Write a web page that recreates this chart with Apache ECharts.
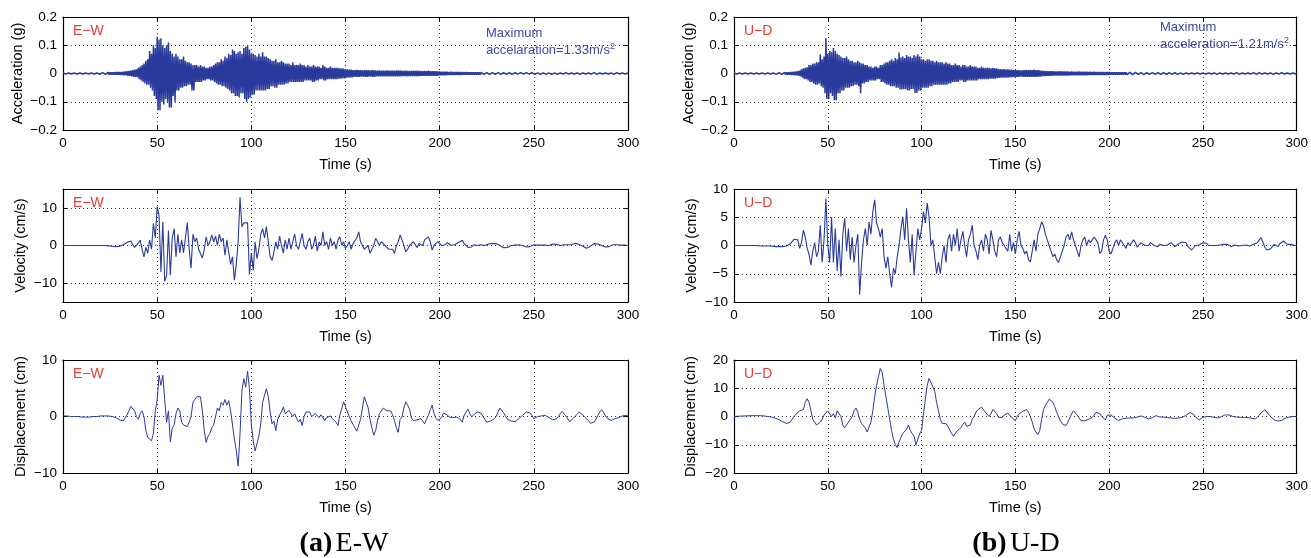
<!DOCTYPE html>
<html>
<head>
<meta charset="utf-8">
<script src="https://cdn.jsdelivr.net/npm/echarts@6/dist/echarts.min.js"></script>
<style>
html,body{margin:0;padding:0;background:#fff;}
#chart{width:1311px;height:558px;}
</style>
</head>
<body>
<div id="chart"></div>
<script>
// sampling step of the digitised records (s)
const timeStep = 1;

// E-W acceleration (g): per-second upper (positive) and lower (negative) peaks, t = 0..300 s
const accEWUp = [
 .002,.002,.002,.002,.002,.002,.002,.002,.002,.002,
 .002,.002,.002,.002,.002,.002,.002,.002,.002,.003,
 .003,.003,.004,.004,.004,.004,.004,.004,.005,.005,
 .005,.005,.006,.007,.008,.009,.01,.012,.014,.015,
 .02,.025,.03,.035,.045,.05,.08,.07,.1,.09,
 .13,.12,.125,.1,.09,.1,.11,.08,.07,.06,
 .07,.06,.05,.05,.06,.045,.04,.04,.035,.03,
 .03,.03,.025,.03,.025,.025,.02,.02,.025,.025,
 .03,.035,.04,.04,.05,.045,.06,.055,.07,.065,
 .085,.08,.07,.075,.08,.07,.09,.095,.1,.085,
 .07,.07,.065,.06,.07,.06,.075,.06,.06,.055,
 .05,.045,.045,.05,.04,.04,.045,.04,.035,.035,
 .035,.03,.04,.03,.03,.03,.035,.03,.03,.025,
 .03,.025,.025,.03,.025,.025,.025,.02,.03,.025,
 .02,.02,.025,.02,.02,.02,.02,.018,.018,.017,
 .015,.015,.014,.014,.012,.012,.013,.012,.012,.011,
 .012,.012,.012,.011,.012,.012,.011,.01,.011,.01,
 .01,.01,.011,.01,.01,.01,.01,.01,.011,.01,
 .01,.009,.01,.009,.009,.009,.01,.009,.01,.009,
 .009,.008,.009,.008,.01,.008,.008,.008,.008,.007,
 .007,.006,.006,.006,.006,.005,.006,.005,.005,.005,
 .005,.005,.005,.004,.005,.004,.004,.004,.004,.004,
 .004,.004,.004,.003,.004,.003,.003,.003,.003,.003,
 .003,.003,.003,.003,.003,.003,.003,.003,.003,.003,
 .003,.003,.002,.003,.003,.002,.003,.003,.002,.003,
 .002,.003,.002,.002,.003,.002,.002,.003,.002,.002,
 .003,.002,.002,.003,.002,.002,.002,.003,.002,.002,
 .002,.003,.002,.002,.002,.003,.002,.002,.003,.002,
 .002,.002,.003,.002,.002,.002,.003,.002,.002,.002,
 .003,.002,.002,.002,.003,.002,.002,.002,.002,.002,
 .002
];
const accEWLo = [
 -.002,-.002,-.002,-.002,-.002,-.002,-.002,-.002,-.002,-.002,
 -.002,-.002,-.002,-.002,-.002,-.002,-.002,-.002,-.002,-.003,
 -.003,-.003,-.003,-.003,-.004,-.004,-.004,-.004,-.004,-.004,
 -.005,-.005,-.006,-.006,-.008,-.008,-.01,-.012,-.013,-.013,
 -.02,-.025,-.03,-.035,-.04,-.04,-.05,-.06,-.08,-.09,
 -.13,-.13,-.1,-.11,-.09,-.1,-.12,-.12,-.08,-.1,
 -.06,-.06,-.05,-.05,-.045,-.045,-.04,-.04,-.06,-.06,
 -.03,-.03,-.03,-.03,-.025,-.025,-.02,-.02,-.025,-.025,
 -.03,-.035,-.04,-.04,-.045,-.045,-.05,-.055,-.06,-.07,
 -.07,-.08,-.08,-.085,-.07,-.07,-.09,-.1,-.09,-.085,
 -.075,-.075,-.06,-.06,-.06,-.06,-.06,-.06,-.055,-.055,
 -.045,-.045,-.05,-.05,-.04,-.04,-.04,-.04,-.035,-.035,
 -.03,-.03,-.03,-.03,-.03,-.03,-.03,-.03,-.025,-.025,
 -.025,-.025,-.03,-.03,-.025,-.025,-.02,-.02,-.025,-.025,
 -.02,-.02,-.02,-.02,-.02,-.02,-.018,-.018,-.017,-.017,
 -.015,-.015,-.014,-.014,-.012,-.012,-.012,-.012,-.011,-.011,
 -.012,-.012,-.011,-.011,-.012,-.012,-.01,-.01,-.01,-.01,
 -.01,-.01,-.01,-.01,-.01,-.01,-.01,-.01,-.01,-.01,
 -.009,-.009,-.01,-.009,-.009,-.009,-.009,-.009,-.009,-.009,
 -.008,-.008,-.008,-.008,-.008,-.008,-.008,-.008,-.008,-.007,
 -.006,-.006,-.006,-.006,-.005,-.005,-.005,-.005,-.005,-.005,
 -.005,-.005,-.004,-.004,-.004,-.004,-.004,-.004,-.004,-.004,
 -.004,-.004,-.003,-.003,-.003,-.003,-.003,-.003,-.003,-.003,
 -.003,-.003,-.003,-.003,-.003,-.003,-.003,-.003,-.003,-.003,
 -.003,-.002,-.003,-.003,-.002,-.003,-.003,-.002,-.003,-.002,
 -.003,-.002,-.002,-.003,-.002,-.002,-.003,-.002,-.002,-.003,
 -.002,-.002,-.003,-.002,-.002,-.002,-.003,-.002,-.002,-.002,
 -.003,-.002,-.002,-.002,-.003,-.002,-.002,-.002,-.002,-.003,
 -.002,-.002,-.002,-.003,-.002,-.002,-.002,-.003,-.002,-.002,
 -.002,-.002,-.003,-.002,-.002,-.002,-.002,-.002,-.002,-.002,
 -.002
];

// U-D acceleration (g): per-second upper and lower peaks, t = 0..300 s
const accUDUp = [
 .002,.002,.002,.002,.002,.002,.002,.002,.002,.002,
 .002,.002,.002,.002,.002,.002,.002,.002,.002,.002,
 .002,.002,.003,.003,.003,.003,.004,.004,.004,.004,
 .005,.005,.006,.007,.008,.01,.015,.018,.02,.022,
 .03,.03,.035,.035,.04,.04,.068,.05,.06,.125,
 .07,.08,.075,.09,.08,.07,.065,.06,.055,.055,
 .06,.05,.045,.045,.04,.04,.045,.04,.035,.035,
 .03,.03,.025,.025,.02,.025,.025,.02,.03,.03,
 .035,.04,.04,.045,.05,.045,.055,.05,.074,.057,
 .06,.055,.065,.06,.06,.055,.065,.06,.068,.06,
 .05,.05,.045,.05,.05,.045,.045,.04,.045,.04,
 .04,.04,.035,.04,.035,.035,.03,.03,.035,.03,
 .03,.025,.03,.03,.025,.025,.03,.025,.025,.025,
 .02,.02,.025,.02,.02,.02,.02,.018,.02,.018,
 .018,.016,.016,.015,.016,.015,.015,.014,.014,.013,
 .012,.012,.012,.011,.012,.012,.013,.012,.013,.012,
 .014,.012,.012,.011,.01,.009,.009,.008,.008,.008,
 .008,.007,.007,.007,.008,.007,.007,.007,.007,.006,
 .007,.006,.006,.006,.007,.006,.006,.006,.006,.005,
 .006,.005,.006,.005,.005,.005,.005,.005,.005,.005,
 .005,.004,.004,.004,.004,.004,.004,.004,.004,.004,
 .003,.004,.003,.003,.004,.003,.003,.003,.003,.003,
 .003,.003,.004,.003,.003,.003,.003,.004,.003,.003,
 .003,.003,.003,.002,.003,.003,.003,.003,.002,.003,
 .003,.002,.002,.003,.002,.003,.002,.002,.003,.002,
 .002,.003,.002,.002,.003,.002,.002,.003,.002,.002,
 .003,.002,.002,.002,.003,.002,.002,.002,.003,.002,
 .002,.002,.003,.002,.002,.002,.002,.003,.002,.002,
 .003,.002,.002,.002,.002,.003,.002,.002,.002,.002,
 .002,.002,.003,.002,.002,.002,.002,.002,.002,.002,
 .002
];
const accUDLo = [
 -.002,-.002,-.002,-.002,-.002,-.002,-.002,-.002,-.002,-.002,
 -.002,-.002,-.002,-.002,-.002,-.002,-.002,-.002,-.002,-.002,
 -.002,-.002,-.003,-.003,-.003,-.003,-.004,-.004,-.004,-.004,
 -.005,-.005,-.006,-.006,-.008,-.01,-.015,-.02,-.02,-.025,
 -.03,-.03,-.035,-.04,-.04,-.035,-.045,-.05,-.07,-.09,
 -.09,-.07,-.08,-.095,-.095,-.07,-.07,-.06,-.06,-.05,
 -.05,-.05,-.045,-.045,-.04,-.04,-.045,-.07,-.035,-.035,
 -.03,-.03,-.025,-.025,-.025,-.025,-.02,-.02,-.03,-.03,
 -.035,-.04,-.04,-.045,-.045,-.045,-.05,-.05,-.057,-.057,
 -.055,-.055,-.06,-.06,-.055,-.055,-.069,-.069,-.06,-.06,
 -.05,-.05,-.05,-.05,-.045,-.045,-.04,-.04,-.04,-.04,
 -.04,-.04,-.04,-.04,-.035,-.035,-.03,-.03,-.03,-.03,
 -.025,-.025,-.03,-.03,-.025,-.025,-.025,-.025,-.025,-.025,
 -.02,-.02,-.02,-.02,-.02,-.02,-.018,-.018,-.018,-.018,
 -.016,-.016,-.015,-.015,-.015,-.015,-.014,-.014,-.013,-.013,
 -.012,-.012,-.011,-.011,-.012,-.012,-.012,-.012,-.012,-.012,
 -.012,-.012,-.011,-.011,-.009,-.009,-.008,-.008,-.008,-.008,
 -.007,-.007,-.007,-.007,-.007,-.007,-.007,-.007,-.007,-.006,
 -.006,-.006,-.006,-.006,-.006,-.006,-.006,-.006,-.006,-.005,
 -.005,-.005,-.005,-.005,-.005,-.005,-.005,-.005,-.005,-.005,
 -.004,-.004,-.004,-.004,-.004,-.004,-.004,-.004,-.004,-.004,
 -.003,-.003,-.004,-.003,-.003,-.003,-.003,-.003,-.004,-.003,
 -.003,-.003,-.003,-.003,-.003,-.004,-.003,-.003,-.003,-.003,
 -.003,-.002,-.003,-.003,-.003,-.002,-.003,-.003,-.002,-.003,
 -.002,-.003,-.002,-.002,-.003,-.002,-.002,-.003,-.002,-.002,
 -.003,-.002,-.002,-.003,-.002,-.002,-.002,-.003,-.002,-.002,
 -.002,-.003,-.002,-.002,-.002,-.003,-.002,-.002,-.002,-.003,
 -.002,-.002,-.002,-.003,-.002,-.002,-.002,-.002,-.003,-.002,
 -.002,-.002,-.003,-.002,-.002,-.002,-.002,-.003,-.002,-.002,
 -.002,-.002,-.002,-.002,-.003,-.002,-.002,-.002,-.002,-.002,
 -.002
];

// E-W velocity (cm/s), t = 0..300 s
const velEW = [
 0,0,0,0,0,0,0,0,0,0,
 0,0,0,0,0,0,0,0,0,0,
 0,0,0,-.1,-.1,-.2,-.2,-.2,-.3,-.1,
 -.2,0,.2,.5,.8,1.1,1.2,.3,-.5,-.2,
 .6,1.4,-1,-3,-.5,-2,1.5,-1,5.9,2,
 10.3,8,-7,6.3,-9.5,-8,4,-7.9,2,4.5,
 -3,3,-2,1.5,-2,2,6.1,-1,-6,3,
 1,2,-1,-1,-3.3,-1,2.3,0,1,2.8,
 1,2.5,0,3,1,2,-2.6,1.5,2,-5,
 -3,-9.2,-5,1,12.8,5,6,5.8,6,-7.7,
 -2,-6.6,1,-3.5,-1,3,4.5,2,5,1,
 -3,-4,-1.7,1,-1,2.5,0,-2,1.5,-1,
 2,-1,1,3,0,-1,1,3.2,0,-1,
 1,2,-1,0,2.5,-1.5,1,0,3.6,0,
 1,-1,2,0,1,-1,1.5,2.3,0,1,
 -.8,0,1,-1,.5,1,2,3.6,1,0,
 -1,-1.2,0,-2.1,-1,0,1.9,1,0,1,
 .5,0,-.5,-1,-1.5,-1,-2.1,0,1,2.8,
 1.5,0,-1.7,-1,0,.5,1,.5,-.5,.5,
 1,0,1.5,1,2.3,1,-1.2,0,.3,1,
 .5,0,.5,.2,.8,.5,0,-.3,.2,.5,
 .8,1.2,1.4,.5,0,-.5,-.8,-.4,.2,.3,
 0,-.3,.2,.3,0,.2,.4,.3,.5,.4,
 .5,.3,0,-.3,-.6,-.8,-.5,-.2,0,.2,
 .1,0,.2,.1,0,-.2,-.4,-.5,-.3,0,
 .2,.3,.1,0,.1,.2,.1,-.1,0,.2,
 .4,.5,.3,.1,0,.1,.2,.3,.2,0,
 .2,.4,.6,.5,.3,0,-.2,-.5,-.7,-.5,
 -.2,.2,.5,.6,.4,.2,0,-.2,-.4,-.6,
 -.3,0,.2,.3,.2,.1,.1,.2,.1,0,
 0
];

// U-D velocity (cm/s), t = 0..300 s
const velUD = [
 0,0,0,0,0,0,0,0,0,0,
 0,0,0,0,-.1,-.1,-.1,-.1,-.1,-.1,
 -.1,-.2,-.2,-.2,-.2,-.2,-.2,-.1,-.1,0,
 .3,.7,1.1,1.4,1,-.5,.5,2.7,1.5,-.5,
 -1.5,-3.5,-1,.5,-2,-1,3.6,-3,1,8.3,
 0,-3,5,-3,3,-4.5,1,-5.5,2,4.8,
 -1,3,-2.5,1.5,-3,0,2,-8.7,-3,1,
 3,0,4.2,2,6,8.1,4,3,1.5,3,
 -2,-4,-2,-5,-7.4,-4,-5,-2,0,3,
 5.1,1,6.6,1,-3,2,-5.3,-1,3,1,
 3,6,4,7.5,5,0,1,-2,-5,-3,
 -5,-2,0,-3,1,2,-1,2,0,3,
 -1,1,2.5,0,-2,1,2,3.6,0,-1,
 -2.5,0,1,-1,2,1,-1.5,2.7,1,-1,
 -2,1,1.5,.5,0,-.5,-1,2,-1,.5,
 -1.5,1,2.5,0,-.5,-1.5,-1,-2.5,-2.9,-1,
 1,-1,2,3,4.2,3.5,2,1,0,-1,
 -2,-1.5,-2.5,-3,-2,-1,0,1.5,2,1,
 2.4,1,0,-1,-2,0,1,1.5,0,1,
 .5,1,1.5,1,.5,-1.4,-1,1,1.8,1,
 -1,-1.5,-.5,.5,1,0,1,.5,0,-.5,
 .5,0,.5,1,.5,-.3,0,.5,.6,0,
 -.3,0,.5,.2,0,.3,-.2,.2,.4,0,
 .3,.1,.2,.5,.2,-.2,0,.3,.5,.6,
 .9,.5,-.2,-.5,-.8,-.4,0,.3,.1,0,
 .5,.8,.4,0,-.2,0,.2,0,-.1,.1,
 .3,.2,0,.2,.1,-.2,0,.1,0,-.1,
 .2,0,-.1,.1,0,-.1,0,.2,.1,.5,
 1,1.4,.6,-.3,-.8,-1,-.6,-.3,.2,0,
 -.2,.3,.6,.8,.6,.2,.4,.2,0,0,
 0
];

// E-W displacement (cm), t = 0..300 s
const dispEW = [
 .1,.1,.1,0,0,0,0,0,0,0,
 -.1,-.1,-.1,-.1,-.1,0,0,0,0,.1,
 .1,.1,.1,.1,.1,.1,0,0,-.2,-.4,
 -.6,-.8,-.8,-.5,.3,1,1.8,1.5,1,0,
 -.5,.5,1,0,-2.5,-3.7,-3.5,-4.3,-3,1,
 2.9,7.3,5.5,7.3,3,-1,1,-4.5,-2,-1.5,
 .5,1.5,1,-1,-1.5,-1.5,-1.8,-1,0,2.5,
 2.5,3.5,3.8,3.5,1,-2.5,-4.6,-3.5,-3,-2,
 -1.5,0,1.5,1,2.5,2,3,2,2.8,1,
 -1.5,-4,-6,-8.8,-3,4.5,6.7,5.2,8,5,
 -1.5,-4.3,-6.1,-5.8,-3.5,-1.3,2.5,3.8,4.9,3.5,
 .8,-1.3,-.8,-2.5,-.5,.3,.8,1.7,.5,.3,
 1.1,.5,0,.5,.8,-1,-.5,-1.6,0,.8,
 1.1,.8,0,.2,.5,.4,-.2,.3,.5,-.7,
 -.2,-.2,.1,-.4,-.5,-1,-1.6,.2,1.4,2.6,
 1.7,.8,0,-.8,-1,-2,-2.6,-2.8,-.5,1.5,
 3.5,2.5,1.6,-.5,-2,-3.3,-2.5,-.7,.5,.8,
 1.5,1.7,1,.8,1,.3,-.7,-2,-2.8,-.5,
 -.1,1.5,2.6,2,1.3,-.3,-.7,-.6,-.6,-.5,
 -.4,-.8,-1.3,-.5,.2,1.2,2,.5,-.3,-.7,
 -.5,-.2,.6,.4,.3,-.1,-.3,-.2,0,-.1,
 -.1,-.5,-1,.2,.8,1.3,.5,-.1,.3,.5,
 .8,1,.6,0,-.5,-1,-1,-.8,-.6,-.4,
 0,.8,1.5,1.2,.6,.3,-.5,-.6,-.8,-1,
 -.9,-.7,-.4,-.2,.2,.5,.8,.9,.6,.2,
 -.4,-.2,0,.1,.1,.2,.2,-.1,-.2,-.4,
 -.6,-.7,-.4,0,.5,.9,.6,.1,-.4,-.9,
 -.7,-.3,0,.4,.8,.7,.3,-.1,-.3,-.7,
 -1.2,-1.4,-1,-.5,.2,.8,1.2,.8,.1,-.3,
 -.6,-.7,-.5,-.4,-.3,-.2,0,.1,.1,.2,
 .2
];

// U-D displacement (cm), t = 0..300 s
const dispUD = [
 0,.05,.1,.1,.15,.2,.2,.25,.25,.3,
 .3,.3,.3,.3,.3,.3,.2,.1,0,-.1,
 -.2,-.4,-.6,-.8,-1.1,-1.5,-1.9,-2.2,-2.5,-2.4,
 -2,-1,0,.8,1.5,2,1.8,2.5,5,6.3,
 5,2,-1,-2,-3,-3.5,-2,-1,.5,1,
 2,1.5,0,1,-.5,2,1.5,0,-3,-4,
 -3,-3.5,-1,0,2,3,1.5,-1,-2.5,-3,
 -4,-5.5,-5,-2,2,7,11,14,17,15.5,
 11,7,3,-1,-5,-8,-10,-11,-9,-7.4,
 -6,-5.5,-4.5,-3,-5,-4.5,-7,-10,-8,-6,
 -5,1,6,11,13.5,13,10.5,9,5,2,
 -1,-2.5,-2,-2.5,-3.5,-4.2,-6,-7,-6.5,-5,
 -5,-4,-2.8,-2,-3.5,-4,-3,-1,0,1.5,
 2.4,3,3.3,3,1.5,1,0,1,2.5,2.7,
 1,-.3,-.6,-.3,.5,1,1.2,.5,-.3,-1,
 -1.4,0,1,1.5,1.8,2,2.5,1.5,0,-2,
 -4.4,-5.5,-6.4,-5,-1,2.5,3.9,5,6.1,5.8,
 5.1,3.5,1.5,0,-1.5,-2.6,-3,-3.2,-2,-.5,
 1,2,1.5,.5,-.5,-1.5,-2,-1.5,-1.2,-1,
 -.8,-.3,.5,1.5,1.9,1,0,-.5,-1.2,.5,
 1.2,.5,0,-.6,-1,-1.4,-1.2,-.8,-.6,-.6,
 -.7,-.5,-.4,-.5,-.4,-.2,0,.2,0,-.3,
 -.4,-.8,-.9,-.4,0,.3,0,-.2,-.3,-.2,
 -.3,-.4,-.5,-.5,-.6,-.7,-.6,-.5,-.4,-.3,
 0,.4,1,1.4,1.5,.8,-.2,-.8,-1.2,-.8,
 -.3,0,0,-.1,0,-.2,-.3,-.4,-.5,-.3,
 0,.3,.6,.7,.5,.2,0,-.1,-.2,-.2,
 -.3,-.3,-.3,-.4,-.4,-.5,-.6,-.8,-.9,-.5,
 .5,1.3,2,2.4,1.8,.8,0,-.6,-1.2,-1.5,
 -1.6,-1.7,-1.4,-1,-.6,-.3,-.2,-.1,0,0,
 0
];

// y-axis tick values
const accTicks = [-0.2, -0.1, 0, 0.1, 0.2];
const velEWTicks = [-10, 0, 10];
const velUDTicks = [-10, -5, 0, 5, 10];
const dispEWTicks = [-10, 0, 10];
const dispUDTicks = [-20, -10, 0, 10, 20];

// texts
const compLabels = ['E\u2212W', 'U\u2212D'];
const maxTexts = [['Maximum', 'accelaration=1.33m/s'], ['Maximum', 'acceleration=1.21m/s']];
const captions = [['(a)', 'E-W'], ['(b)', 'U-D']];

const FONT = '"Liberation Sans", Arial, Helvetica, sans-serif';
const SERIF = '"Liberation Serif", "DejaVu Serif", serif';
const LINE = '#2a3a9c';
const RED = '#e63a30';
const BLUE = '#3a48a8';

// upper peak at the start of each second, lower peak half a second later
const envelopePairs = (up, lo) => {
  const out = [];
  up.forEach((v, k) => {
    out.push([k * timeStep, v]);
    if (k < up.length - 1) out.push([(k + 0.5) * timeStep, lo[k]]);
  });
  return out;
};
const samplePairs = arr => arr.map((v, k) => [k * timeStep, v]);

const panels = [
  {pts: envelopePairs(accEWUp, accEWLo), col: 0, row: 0, min: -0.2, max: 0.2, ticks: accTicks, name: 'Acceleration (g)', gap: 38, lw: 1.5},
  {pts: samplePairs(velEW), col: 0, row: 1, min: -15, max: 15, ticks: velEWTicks, name: 'Velocity (cm/s)', gap: 35, lw: 1.1},
  {pts: samplePairs(dispEW), col: 0, row: 2, min: -10, max: 10, ticks: dispEWTicks, name: 'Displacement (cm)', gap: 35, lw: 1},
  {pts: envelopePairs(accUDUp, accUDLo), col: 1, row: 0, min: -0.2, max: 0.2, ticks: accTicks, name: 'Acceleration (g)', gap: 38, lw: 1.5},
  {pts: samplePairs(velUD), col: 1, row: 1, min: -10, max: 10, ticks: velUDTicks, name: 'Velocity (cm/s)', gap: 35, lw: 1.1},
  {pts: samplePairs(dispUD), col: 1, row: 2, min: -20, max: 20, ticks: dispUDTicks, name: 'Displacement (cm)', gap: 36, lw: 1}
];

const colLeft = [63, 734];
const colWidth = [565, 563];
const rowTop = [17, 189, 360];
const plotH = 113;

const fmt = v => {
  const s = String(Math.round(v * 1000) / 1000);
  return v < 0 ? '\u2212' + s.slice(1) : s;
};

const grids = [], xAxes = [], yAxes = [], series = [], graphics = [];
const dotted = {color: '#3a3a3a', type: [1, 3], width: 1};

panels.forEach((p, i) => {
  grids.push({left: colLeft[p.col], top: rowTop[p.row], width: colWidth[p.col], height: plotH});
  ['bottom', 'top'].forEach(pos => {
    const main = pos === 'bottom';
    xAxes.push({
      type: 'value', gridIndex: i, position: pos, min: 0, max: 300, interval: 50,
      axisLine: {show: true, onZero: false, lineStyle: {color: '#000', width: 1.2}},
      axisTick: {show: true, inside: true, length: 4, lineStyle: {color: '#000'}},
      axisLabel: {show: main, color: '#000', fontFamily: FONT, fontSize: 13.5, margin: 6, formatter: fmt},
      splitLine: {show: main, lineStyle: dotted},
      name: main ? 'Time (s)' : '', nameLocation: 'middle', nameGap: 27,
      nameTextStyle: {color: '#000', fontFamily: FONT, fontSize: 14.5}
    });
  });
  ['left', 'right'].forEach(pos => {
    const main = pos === 'left';
    yAxes.push({
      type: 'value', gridIndex: i, position: pos, min: p.min, max: p.max,
      axisLine: {show: true, onZero: false, lineStyle: {color: '#000', width: 1.2}},
      axisTick: {show: true, inside: true, length: 4, lineStyle: {color: '#000'}, customValues: p.ticks},
      axisLabel: {show: main, color: '#000', fontFamily: FONT, fontSize: 13.5, margin: 6, formatter: fmt, customValues: p.ticks},
      splitLine: {show: main, lineStyle: dotted},
      name: main ? p.name : '', nameLocation: 'middle', nameGap: p.gap, nameRotate: 90,
      nameTextStyle: {color: '#000', fontFamily: FONT, fontSize: 14.5}
    });
  });
  series.push({
    type: 'line', xAxisIndex: 2 * i, yAxisIndex: 2 * i,
    data: p.pts,
    showSymbol: false, symbol: 'none', silent: true, animation: false,
    lineStyle: {color: LINE, width: p.lw, join: 'bevel'}
  });
  graphics.push({
    type: 'text', left: colLeft[p.col] + 10, top: rowTop[p.row] + 7,
    style: {text: compLabels[p.col], fill: RED, font: '14px ' + FONT}
  });
});

// maximum acceleration notes
const noteX = [486, 1160];
const noteY = [25, 19];
[0, 1].forEach(c => {
  graphics.push({
    type: 'text', left: noteX[c], top: noteY[c],
    style: {
      text: maxTexts[c][0] + '\n' + maxTexts[c][1] + '{s|2}',
      fill: BLUE, font: '13px ' + FONT, lineHeight: 17,
      rich: {s: {fontSize: 9, fill: BLUE, fontFamily: FONT, verticalAlign: 'top', lineHeight: 17, padding: [0, 0, 6, 0]}}
    }
  });
});

// captions
const capX = [344, 1016];
[0, 1].forEach(c => {
  graphics.push({
    type: 'text', x: capX[c], y: 544,
    style: {
      text: '{b|' + captions[c][0] + '} {n|' + captions[c][1] + '}',
      align: 'center', verticalAlign: 'middle',
      rich: {
        b: {fontFamily: SERIF, fontWeight: 'bold', fontSize: 28, fill: '#000'},
        n: {fontFamily: SERIF, fontSize: 28, fill: '#000'}
      }
    }
  });
});

const chart = echarts.init(document.getElementById('chart'), null, {renderer: 'canvas'});
chart.setOption({
  animation: false,
  backgroundColor: '#fff',
  grid: grids,
  xAxis: xAxes,
  yAxis: yAxes,
  series: series,
  graphic: graphics
});
</script>
</body>
</html>
